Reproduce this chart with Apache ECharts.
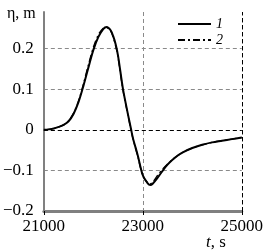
<!DOCTYPE html>
<html>
<head>
<meta charset="utf-8">
<script src="https://cdn.jsdelivr.net/npm/echarts@6/dist/echarts.min.js"></script>
<style>html,body{margin:0;padding:0;background:#fff;}#c{width:266px;height:252px;}</style>
</head>
<body>
<div id="c"></div>
<script>
var seriesNames = ['1', '2'];
var xTicks = [21000, 23000, 25000];
var yTicks = [-0.2, -0.1, 0, 0.1, 0.2];
var series1 = [
  [21000, 0], [21100, 0.001], [21200, 0.003], [21300, 0.007], [21400, 0.012],
  [21500, 0.021], [21600, 0.039], [21700, 0.068], [21800, 0.108], [21900, 0.153],
  [22000, 0.196], [22100, 0.228], [22200, 0.248], [22270, 0.253], [22350, 0.245],
  [22400, 0.231], [22450, 0.211], [22500, 0.182], [22600, 0.100], [22700, 0.038],
  [22765, 0], [22800, -0.020], [22900, -0.064], [23000, -0.112], [23100, -0.132],
  [23150, -0.136], [23200, -0.133], [23300, -0.118], [23400, -0.101], [23500, -0.086],
  [23600, -0.074], [23700, -0.064], [23800, -0.056], [24000, -0.045], [24200, -0.037],
  [24400, -0.031], [24600, -0.027], [24800, -0.023], [25000, -0.019]
];
var series2 = [
  [21000, 0], [21100, 0.001], [21200, 0.003], [21300, 0.007], [21400, 0.012],
  [21500, 0.022], [21600, 0.041], [21700, 0.071], [21800, 0.113], [21900, 0.160],
  [22000, 0.203], [22100, 0.234], [22200, 0.250], [22260, 0.252], [22350, 0.243],
  [22400, 0.228], [22450, 0.207], [22500, 0.178], [22600, 0.097], [22700, 0.036],
  [22760, 0], [22800, -0.021], [22900, -0.066], [23000, -0.113], [23100, -0.131],
  [23150, -0.133], [23200, -0.129], [23300, -0.112], [23400, -0.097], [23500, -0.084],
  [23600, -0.073], [23700, -0.064], [23800, -0.056], [24000, -0.045], [24200, -0.037],
  [24400, -0.031], [24600, -0.027], [24800, -0.023], [25000, -0.019]
];

var chart = echarts.init(document.getElementById('c'), null, {renderer: 'canvas'});
var serif = 'Liberation Serif';
var gridDash = {color: '#8a8a8a', type: [4, 3], width: 1};
chart.setOption({
  animation: false,
  backgroundColor: '#fff',
  grid: {left: 42, right: 23, top: 12, bottom: 41, containLabel: false},
  legend: {
    data: seriesNames,
    orient: 'vertical',
    left: 172, top: 12,
    itemWidth: 33, itemHeight: 10, itemGap: 2,
    itemStyle: {opacity: 0},
    textStyle: {fontFamily: serif, fontStyle: 'italic', fontSize: 14, color: '#000'},
    selectedMode: false
  },
  xAxis: {
    type: 'value', min: 21000, max: 25000, interval: 2000,
    axisLine: {onZero: false, lineStyle: {color: '#808080', width: 3}},
    axisTick: {show: true, length: 4, inside: false, lineStyle: {color: '#000', width: 1}},
    axisLabel: {
      fontFamily: serif, fontSize: 17, color: '#000', margin: 7,
      customValues: xTicks,
      formatter: function (v) { return String(v); }
    },
    splitLine: {show: true, showMinLine: false, lineStyle: gridDash}
  },
  yAxis: {
    type: 'value', min: -0.2, max: 0.29, interval: 0.1,
    axisLine: {show: true, onZero: false, lineStyle: {color: '#808080', width: 2}},
    axisTick: {show: false},
    axisLabel: {
      fontFamily: serif, fontSize: 17, color: '#000', margin: 10,
      customValues: yTicks,
      formatter: function (v) {
        var r = Math.round(v * 10) / 10;
        if (r === 0) return '0';
        return (r < 0 ? '\u2212' : '') + Math.abs(r).toFixed(1);
      }
    },
    splitLine: {show: true, showMinLine: false, showMaxLine: false, lineStyle: gridDash}
  },
  graphic: [
    {type: 'text', left: 7, top: 6, style: {text: '\u03b7, m', fontFamily: serif, fontSize: 16, fill: '#000'}},
    {type: 'text', left: 206, top: 234, style: {
      text: '{i|t}, s', fontFamily: serif, fontSize: 17, fill: '#000',
      rich: {i: {fontStyle: 'italic', fontFamily: serif, fontSize: 17}}
    }}
  ],
  series: [
    {
      name: seriesNames[0], type: 'line', data: series1, smooth: 0.3,
      symbol: 'none', z: 3,
      lineStyle: {color: '#000', width: 2, type: 'solid'},
      itemStyle: {color: '#000'},
      markLine: {
        silent: true, symbol: 'none', label: {show: false},
        lineStyle: {color: '#000', type: [4, 3], width: 1},
        data: [{yAxis: 0}, {xAxis: 25000}]
      }
    },
    {
      name: seriesNames[1], type: 'line', data: series2, smooth: 0.3,
      symbol: 'none', z: 4,
      lineStyle: {color: '#000', width: 1.3, type: [7, 3, 2, 3]},
      itemStyle: {color: '#000'}
    }
  ]
});
</script>
</body>
</html>
